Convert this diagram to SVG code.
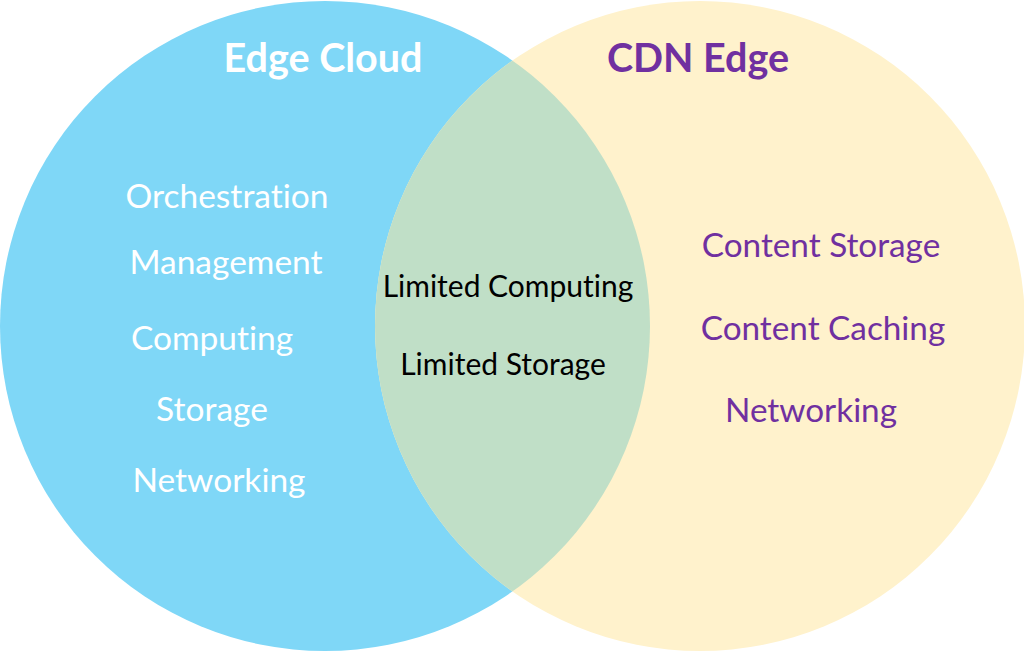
<svg xmlns="http://www.w3.org/2000/svg" width="1024" height="653" viewBox="0 0 1024 653">
<defs>
<style>
text{font-family:Lato,"Open Sans","Liberation Sans",sans-serif;text-anchor:middle;font-variant-ligatures:none;font-feature-settings:"liga" 0}
.w{fill:#ffffff;font-size:33.5px}
.p{fill:#7030a0;font-size:33.3px}
.k{fill:#000000;font-size:30px}
.t{font-size:39.5px;font-weight:bold}
</style>
<clipPath id="clipL"><circle cx="325" cy="326" r="325"/></clipPath>
</defs>
<g id="edge-cloud"><circle cx="325" cy="326" r="325" fill="#7fd7f7"/></g>
<g id="cdn-edge"><circle cx="700" cy="326" r="325" fill="#fff2cc"/></g>
<g id="overlap"><circle cx="700" cy="326" r="325" fill="#c0dfc7" clip-path="url(#clipL)"/></g>
<g id="connectors"></g>
<g id="labels-left">
<text class="w t" x="323" y="72">Edge Cloud</text>
<text class="w" x="227" y="208">Orchestration</text>
<text class="w" x="226" y="274">Management</text>
<text class="w" x="212" y="350">Computing</text>
<text class="w" x="212" y="421">Storage</text>
<text class="w" x="219" y="492">Networking</text>
</g>
<g id="labels-right">
<text class="p t" x="698" y="72">CDN Edge</text>
<text class="p" x="821" y="257">Content Storage</text>
<text class="p" x="823" y="340">Content Caching</text>
<text class="p" x="811" y="422">Networking</text>
</g>
<g id="labels-center">
<text class="k" x="508" y="297">Limited Computing</text>
<text class="k" x="503" y="375">Limited Storage</text>
</g>
</svg>
